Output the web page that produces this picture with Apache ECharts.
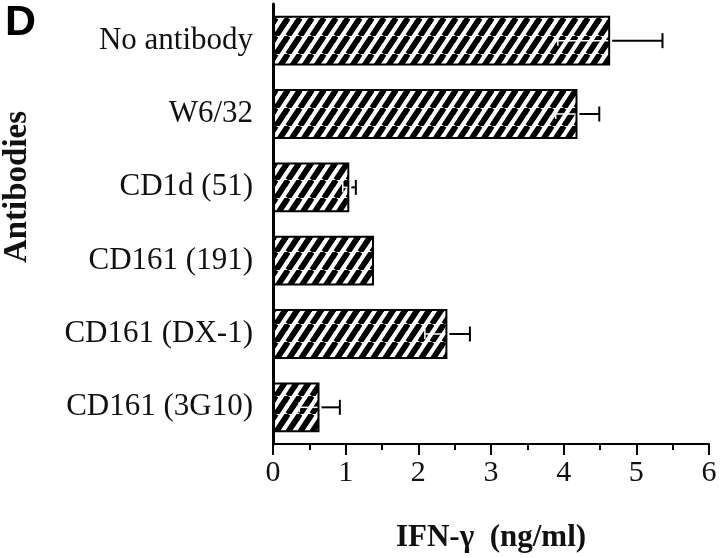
<!DOCTYPE html>
<html>
<head>
<meta charset="utf-8">
<script src="https://cdn.jsdelivr.net/npm/echarts@6/dist/echarts.min.js"></script>
<style>
  html, body { margin: 0; padding: 0; background: #fff; }
  #chart { width: 720px; height: 558px; }
</style>
</head>
<body>
<div id="chart"></div>
<script>
// antibodies, top to bottom
const categories = ['No antibody', 'W6/32', 'CD1d (51)', 'CD161 (191)', 'CD161 (DX-1)', 'CD161 (3G10)'];
// IFN-gamma, ng/ml
const values = [4.64, 4.19, 1.05, 1.39, 2.40, 0.64];
const errors = [0.72, 0.30, 0.09, 0, 0.31, 0.28];
const xTicks = [0, 1, 2, 3, 4, 5, 6];

const serif = '"Liberation Serif", "Times New Roman", serif';

// diagonal hatch tile
const makeHatch = () => {
    const w = 12, h = 18;
    const c = document.createElement('canvas');
    c.width = w;
    c.height = h;
    const ctx = c.getContext('2d');
    ctx.fillStyle = '#fff';
    ctx.fillRect(0, 0, w, h);
    ctx.strokeStyle = '#000';
    ctx.lineWidth = 5.8;
    for (let k = -1; k <= 1; k++) {
        ctx.beginPath();
        ctx.moveTo(k * w, h);
        ctx.lineTo((k + 1) * w, 0);
        ctx.stroke();
    }
    return c;
};

const errData = values.map((v, i) => [v, i, v - errors[i], v + errors[i]]);

const renderError = (params, api) => {
    const mean = api.coord([api.value(0), api.value(1)]);
    const lo = api.coord([api.value(2), api.value(1)]);
    const hi = api.coord([api.value(3), api.value(1)]);
    if (hi[0] - mean[0] < 1) {
        return null;
    }
    const cap = 7.5;
    return {
        type: 'group',
        children: [
            {
                type: 'line',
                shape: { x1: mean[0] + 2, y1: mean[1], x2: hi[0], y2: hi[1] },
                style: { stroke: '#000', lineWidth: 2 },
            },
            {
                type: 'line',
                shape: { x1: hi[0], y1: hi[1] - cap, x2: hi[0], y2: hi[1] + cap },
                style: { stroke: '#000', lineWidth: 2 },
            },
            {
                type: 'line',
                shape: { x1: lo[0], y1: lo[1], x2: mean[0] - 2, y2: mean[1] },
                style: { stroke: '#fff', lineWidth: 1.5 },
            },
            {
                type: 'line',
                shape: { x1: lo[0], y1: lo[1] - 5, x2: lo[0], y2: lo[1] + 5 },
                style: { stroke: '#fff', lineWidth: 1.5 },
            },
        ],
    };
};

const chart = echarts.init(document.getElementById('chart'));

chart.setOption({
    animation: false,
    backgroundColor: '#fff',
    grid: { left: 273, right: 11, top: 4, bottom: 113 },
    xAxis: {
        type: 'value',
        min: xTicks[0],
        max: xTicks[xTicks.length - 1],
        interval: 1,
        name: 'IFN-\u03b3  (ng/ml)',
        nameLocation: 'middle',
        nameGap: 78,
        nameTextStyle: { fontFamily: serif, fontWeight: 'bold', fontSize: 31, color: '#111' },
        axisLine: { show: true, lineStyle: { color: '#000', width: 2 } },
        axisTick: { show: true, length: 11, lineStyle: { color: '#000', width: 2 } },
        minorTick: { show: true, splitNumber: 2, length: 6, lineStyle: { color: '#000', width: 2 } },
        axisLabel: { fontFamily: serif, fontSize: 30, color: '#111', margin: 14 },
        splitLine: { show: false },
    },
    yAxis: {
        type: 'category',
        data: categories,
        inverse: true,
        axisLine: { show: true, lineStyle: { color: '#000', width: 3 } },
        axisTick: { show: false },
        axisLabel: { fontFamily: serif, fontSize: 31, color: '#111', margin: 20 },
    },
    graphic: [
        {
            type: 'text',
            left: 5,
            top: 2,
            style: { text: 'D', font: 'bold 43px "Liberation Sans", Arial, sans-serif', fill: '#000' },
        },
        {
            type: 'text',
            x: 17,
            y: 187,
            rotation: Math.PI / 2,
            style: {
                text: 'Antibodies',
                font: 'bold 33px ' + serif,
                fill: '#111',
                align: 'center',
                verticalAlign: 'middle',
            },
        },
    ],
    series: [
        {
            type: 'bar',
            data: values,
            barCategoryGap: '32%',
            itemStyle: {
                color: { image: makeHatch(), repeat: 'repeat' },
                borderColor: '#000',
                borderWidth: 2,
            },
        },
        {
            type: 'custom',
            renderItem: renderError,
            data: errData,
            encode: { x: [0, 2, 3], y: 1 },
            z: 5,
        },
    ],
});
</script>
</body>
</html>
